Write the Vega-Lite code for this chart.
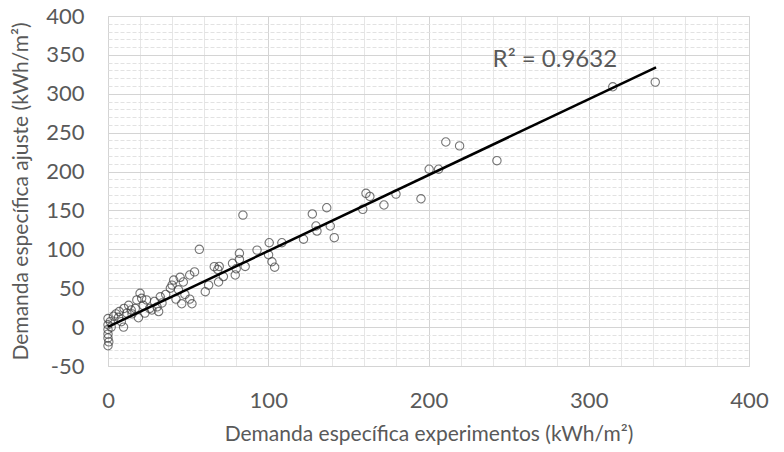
{
  "$schema": "https://vega.github.io/schema/vega-lite/v6.json",
  "width": 641,
  "height": 350,
  "autosize": {"type": "none"},
  "padding": {"left": 108, "top": 16, "right": 35, "bottom": 86},
  "background": "white",
  "config": {"view": {"stroke": "#d0d0d0", "strokeWidth": 1}, "font": "Lato"},
  "datasets": {
    "points": [
      {"x": 0, "y": 11}, {"x": 0, "y": 3}, {"x": 0, "y": -3}, {"x": 0, "y": -9}, {"x": 0, "y": -14}, {"x": 0, "y": -24}, {"x": 0.5, "y": -19},
      {"x": 1.4, "y": 7}, {"x": 3.5, "y": 14}, {"x": 6.6, "y": 12.6}, {"x": 7, "y": 20}, {"x": 9.7, "y": 0}, {"x": 8.3, "y": 7},
      {"x": 11.8, "y": 18}, {"x": 12.9, "y": 28}, {"x": 14.5, "y": 22}, {"x": 18, "y": 35}, {"x": 20, "y": 43.5}, {"x": 21, "y": 37},
      {"x": 22, "y": 28}, {"x": 17, "y": 24}, {"x": 15, "y": 17}, {"x": 24, "y": 35}, {"x": 26, "y": 24}, {"x": 5, "y": 17},
      {"x": 10, "y": 24}, {"x": 2, "y": 0}, {"x": 19, "y": 12}, {"x": 23, "y": 18},
      {"x": 27.4, "y": 22}, {"x": 31.6, "y": 20}, {"x": 30.6, "y": 26}, {"x": 32.6, "y": 39}, {"x": 33.7, "y": 31}, {"x": 38.9, "y": 50},
      {"x": 40, "y": 54}, {"x": 41, "y": 60.5}, {"x": 42.4, "y": 36}, {"x": 45, "y": 64}, {"x": 47, "y": 58}, {"x": 46, "y": 30},
      {"x": 51, "y": 67}, {"x": 51, "y": 36}, {"x": 52.4, "y": 30}, {"x": 54, "y": 71}, {"x": 57, "y": 100}, {"x": 60.7, "y": 45.5},
      {"x": 62.8, "y": 54}, {"x": 66.3, "y": 77.7}, {"x": 36, "y": 42}, {"x": 44, "y": 48}, {"x": 48, "y": 42}, {"x": 29, "y": 33},
      {"x": 69, "y": 58}, {"x": 69.4, "y": 78}, {"x": 68.5, "y": 74}, {"x": 77.7, "y": 82}, {"x": 79.4, "y": 67}, {"x": 82, "y": 95},
      {"x": 82, "y": 87}, {"x": 84.2, "y": 144}, {"x": 85.6, "y": 78}, {"x": 93, "y": 99}, {"x": 100.6, "y": 108.5}, {"x": 108.5, "y": 108.5},
      {"x": 100.2, "y": 93}, {"x": 102.3, "y": 84}, {"x": 104, "y": 77}, {"x": 72, "y": 65}, {"x": 80, "y": 75},
      {"x": 122, "y": 113}, {"x": 127.5, "y": 145.5}, {"x": 129.8, "y": 130}, {"x": 130.4, "y": 123.5}, {"x": 136.5, "y": 153.5},
      {"x": 138.7, "y": 130}, {"x": 141.2, "y": 115}, {"x": 159, "y": 151.4}, {"x": 161, "y": 172}, {"x": 163.4, "y": 168},
      {"x": 172.2, "y": 157}, {"x": 179.7, "y": 171}, {"x": 195.3, "y": 165}, {"x": 200.4, "y": 203}, {"x": 206.3, "y": 203},
      {"x": 210.8, "y": 238}, {"x": 219.4, "y": 233}, {"x": 242.7, "y": 214}, {"x": 315, "y": 309}, {"x": 341.5, "y": 315}
    ],
    "trend": [{"x": 0, "y": 0.3}, {"x": 342, "y": 334}],
    "label": [{"x": 240, "y": 343, "text": "R² = 0.9632"}]
  },
  "layer": [
    {
      "data": {"name": "points"},
      "mark": {"type": "point", "opacity": 0},
      "encoding": {
        "x": {"field": "x", "type": "quantitative", "scale": {"domain": [0, 400], "nice": false, "zero": false},
          "axis": {"orient": "bottom", "values": [20, 40, 60, 80, 120, 140, 160, 180, 220, 240, 260, 280, 320, 340, 360, 380],
            "grid": true, "gridColor": "#e6e6e6", "gridWidth": 1, "labels": false, "ticks": false, "domain": false, "title": null}},
        "y": {"field": "y", "type": "quantitative", "scale": {"domain": [-50, 400], "nice": false, "zero": false},
          "axis": {"orient": "left", "values": [-40, -30, -20, -10, 10, 20, 30, 40, 60, 70, 80, 90, 110, 120, 130, 140, 160, 170, 180, 190, 210, 220, 230, 240, 260, 270, 280, 290, 310, 320, 330, 340, 360, 370, 380, 390],
            "grid": true, "gridColor": "#e2e2e2", "gridDash": [4, 2], "gridWidth": 1, "labels": false, "ticks": false, "domain": false, "title": null}}
      }
    },
    {
      "data": {"name": "points"},
      "mark": {"type": "point", "shape": "circle", "filled": false, "size": 70, "stroke": "#3c3c3c", "strokeWidth": 1.1},
      "encoding": {
        "x": {"field": "x", "type": "quantitative",
          "axis": {"orient": "bottom", "values": [0, 100, 200, 300, 400], "grid": true, "gridColor": "#d4d4d4", "gridWidth": 1,
            "ticks": false, "domain": false, "labelFlush": false, "labelFontSize": 22, "labelColor": "#595959", "labelPadding": 24, "labelFont": "Lato",
            "title": "Demanda específica experimentos (kWh/m²)", "titleFontSize": 21, "titleFontWeight": "normal", "titleColor": "#595959", "titlePadding": 12, "titleFont": "Lato"}},
        "y": {"field": "y", "type": "quantitative",
          "axis": {"orient": "left", "values": [-50, 0, 50, 100, 150, 200, 250, 300, 350, 400], "grid": true, "gridColor": "#d4d4d4", "gridWidth": 1,
            "ticks": false, "domain": false, "labelFlush": false, "labelExpr": "'' + datum.value", "labelFontSize": 22, "labelColor": "#595959", "labelPadding": 24, "labelFont": "Lato",
            "title": "Demanda específica ajuste (kWh/m²)", "titleFontSize": 21, "titleFontWeight": "normal", "titleColor": "#595959", "titlePadding": 14, "titleFont": "Lato"}}
      }
    },
    {
      "data": {"name": "trend"},
      "mark": {"type": "line", "color": "#000000", "strokeWidth": 2.5},
      "encoding": {
        "x": {"field": "x", "type": "quantitative", "axis": null},
        "y": {"field": "y", "type": "quantitative", "axis": null}
      }
    },
    {
      "data": {"name": "label"},
      "mark": {"type": "text", "align": "left", "baseline": "middle", "fontSize": 24, "color": "#595959", "font": "Lato"},
      "encoding": {
        "x": {"field": "x", "type": "quantitative", "axis": null},
        "y": {"field": "y", "type": "quantitative", "axis": null},
        "text": {"field": "text"}
      }
    }
  ],
  "resolve": {"axis": {"x": "independent", "y": "independent"}}
}
